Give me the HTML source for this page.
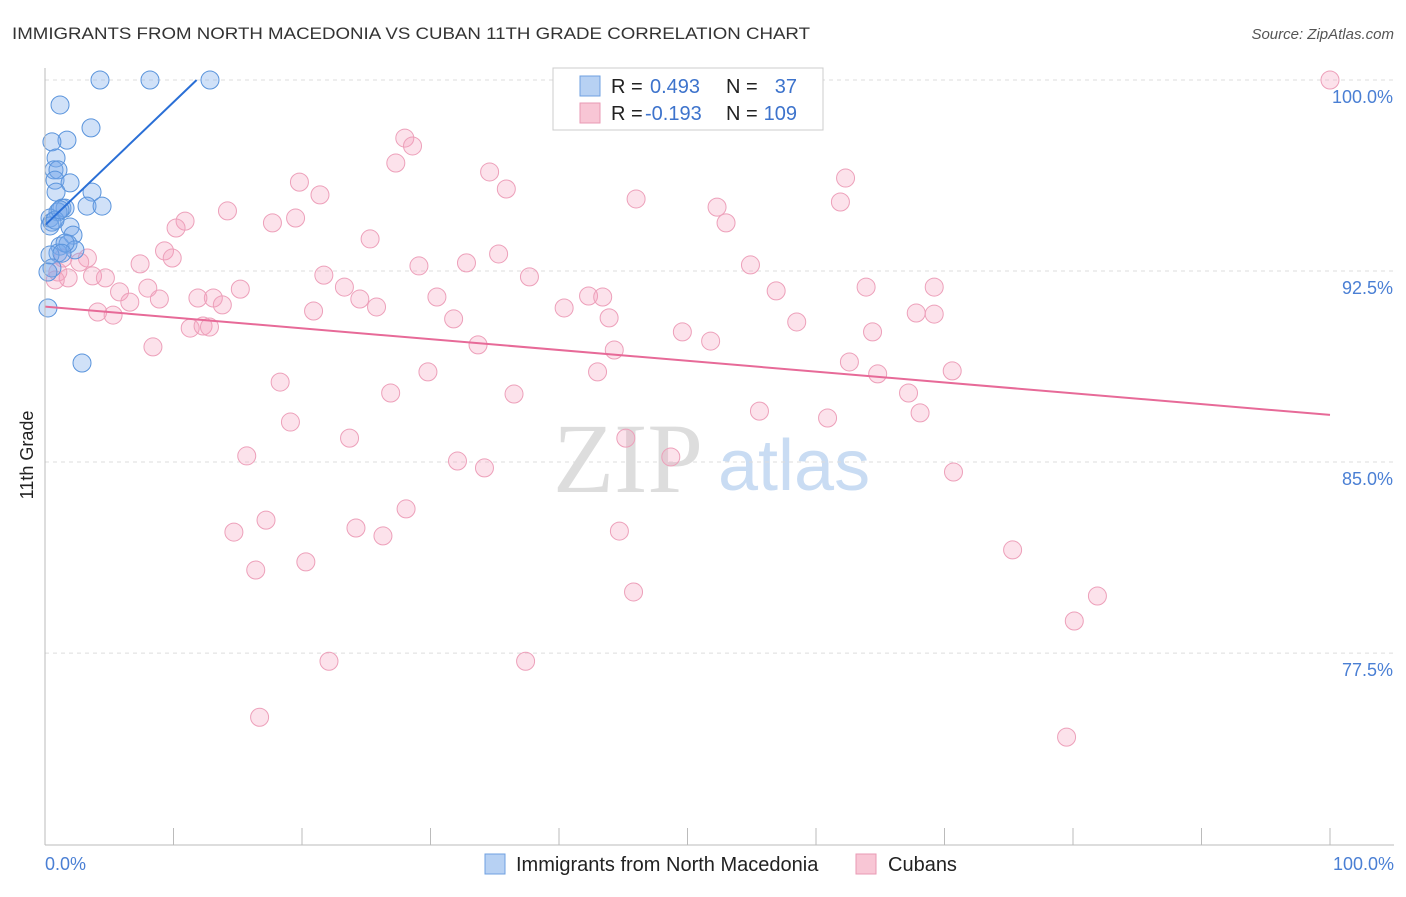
<!DOCTYPE html>
<html><head><meta charset="utf-8"><style>
body{margin:0;background:#fff;font-family:"Liberation Sans",sans-serif}
</style></head><body>
<svg id="c" width="1406" height="892" font-family="Liberation Sans, sans-serif">
<text x="12" y="39" font-size="17" fill="#333" textLength="798" lengthAdjust="spacingAndGlyphs">IMMIGRANTS FROM NORTH MACEDONIA VS CUBAN 11TH GRADE CORRELATION CHART</text>
<text x="1394" y="39" font-size="15" fill="#555" font-style="italic" text-anchor="end">Source: ZipAtlas.com</text>
<text x="33" y="455" font-size="18" fill="#222" transform="rotate(-90 33 455)" text-anchor="middle">11th Grade</text>
<g><text x="553" y="492" font-size="100" fill="#ddd" font-family="Liberation Serif, serif">ZIP</text><text x="718" y="490" font-size="72" fill="#c9dcf3">atlas</text></g>
<g id="grid"></g><g id="pts"></g><g id="lines"></g>
<line x1="45" y1="68" x2="45" y2="845" stroke="#bbb"/>
<line x1="45" y1="845" x2="1394" y2="845" stroke="#bbb"/>
<text x="45" y="870" font-size="18" fill="#4a7fd4">0.0%</text>
<text x="1394" y="870" font-size="18" fill="#4a7fd4" text-anchor="end">100.0%</text>
<g>
<rect x="553" y="68" width="270" height="62" fill="#fff" stroke="#ccc"/>
<rect x="580" y="76" width="20" height="20" fill="#b7d1f3" stroke="#6fa0e0"/>
<rect x="580" y="103" width="20" height="20" fill="#f8c6d5" stroke="#e99ab4"/>
<text x="611" y="93" font-size="20" fill="#222">R =</text><text x="650" y="93" font-size="20" fill="#3d73cc">0.493</text><text x="726" y="93" font-size="20" fill="#222">N =</text><text x="797" y="93" font-size="20" fill="#3d73cc" text-anchor="end">37</text>
<text x="611" y="120" font-size="20" fill="#222">R =</text><text x="645" y="120" font-size="20" fill="#3d73cc">-0.193</text><text x="726" y="120" font-size="20" fill="#222">N =</text><text x="797" y="120" font-size="20" fill="#3d73cc" text-anchor="end">109</text>
</g>
<g>
<rect x="485" y="854" width="20" height="20" fill="#b7d1f3" stroke="#6fa0e0"/>
<text x="516" y="871" font-size="20" fill="#222">Immigrants from North Macedonia</text>
<rect x="856" y="854" width="20" height="20" fill="#f8c6d5" stroke="#e99ab4"/>
<text x="888" y="871" font-size="20" fill="#222">Cubans</text>
</g>
</svg>
<script>
const yTicks=[100,92.5,85,77.5];
const yTickLabels=["100.0%","92.5%","85.0%","77.5%"];
const xTicks=[0,10,20,30,40,50,60,70,80,90,100];
const blueX=[4.28,8.17,12.84,1.17,3.58,1.71,0.54,0.86,0.70,1.01,0.78,1.95,0.86,3.66,3.27,4.44,1.32,1.56,1.01,0.39,0.54,1.95,2.18,0.39,1.17,1.79,2.33,1.01,0.39,0.54,0.23,0.23,2.88,1.56,1.32,0.78,1.17];
const blueY=[100,100,100,99.02,98.12,97.64,97.57,96.94,96.47,96.47,96.07,95.96,95.60,95.60,95.05,95.05,94.97,94.97,94.82,94.58,94.42,94.23,93.91,94.27,93.48,93.56,93.33,93.21,93.13,92.62,92.46,91.05,88.89,93.6,93.2,94.5,94.9];
const pinkX=[100,28.0,28.6,27.3,34.6,19.8,35.9,21.4,46.0,62.3,61.9,52.3,14.2,10.9,19.5,17.7,53.0,10.2,25.3,9.3,35.3,9.9,3.3,2.7,1.4,7.4,29.1,32.8,54.9,21.7,37.7,3.7,4.7,1.8,1.0,0.8,23.3,15.2,69.2,56.9,63.9,5.8,8.0,13.1,11.9,8.9,6.6,24.5,42.3,43.4,30.5,13.8,25.8,20.9,40.4,4.1,5.3,67.8,69.2,31.8,43.9,58.5,11.3,12.3,12.8,49.6,64.4,33.7,51.8,8.4,44.3,62.6,29.8,43.0,64.8,70.6,18.3,26.9,36.5,67.2,55.6,68.1,60.9,19.1,23.7,45.2,15.7,32.1,48.7,34.2,70.7,28.1,17.2,14.7,24.2,26.3,44.7,16.4,75.3,20.3,45.8,81.9,80.1,22.1,37.4,16.7,79.5];
const pinkY=[100,97.72,97.41,96.74,96.39,95.99,95.72,95.49,95.33,96.15,95.21,95.01,94.86,94.46,94.58,94.39,94.39,94.19,93.76,93.29,93.17,93.01,93.01,92.85,93.01,92.78,92.70,92.82,92.74,92.34,92.27,92.31,92.23,92.23,92.46,92.15,91.87,91.79,91.87,91.72,91.87,91.68,91.83,91.44,91.44,91.40,91.28,91.40,91.52,91.48,91.48,91.17,91.09,90.93,91.05,90.89,90.77,90.85,90.81,90.62,90.66,90.50,90.26,90.34,90.30,90.11,90.11,89.60,89.75,89.52,89.40,88.93,88.54,88.54,88.46,88.58,88.14,87.71,87.67,87.71,87.00,86.93,86.73,86.57,85.94,85.94,85.24,85.04,85.20,84.77,84.61,83.16,82.72,82.25,82.41,82.10,82.29,80.76,81.55,81.08,79.90,79.74,78.76,77.18,77.18,74.98,74.20];
const blueTrendX=[0,11.8];
const blueTrendY=[94.3,100];
const pinkTrendX=[0,100];
const pinkTrendY=[91.1,86.85];
const NS="http://www.w3.org/2000/svg";
function sx(v){return 45+v*12.85;}
function sy(v){return 80+(100-v)*25.47;}
function mk(t,a,p){const e=document.createElementNS(NS,t);for(const k in a)e.setAttribute(k,a[k]);document.getElementById(p).appendChild(e);return e;}
yTicks.forEach((v,i)=>{
 const l=mk('line',{x1:45,x2:1394,y1:sy(v),y2:sy(v),stroke:'#ddd','stroke-dasharray':'4,4'},'grid');
 
 
 const t=mk('text',{x:1393,y:sy(v)+23,'font-size':18,fill:'#4a7fd4','text-anchor':'end'},'grid');
 t.textContent=yTickLabels[i];
 
 
});
xTicks.forEach(v=>{
 const l=mk('line',{x1:sx(v),x2:sx(v),y1:828,y2:845,stroke:'#bbb'},'grid');
 
 
});
pinkX.forEach((x,i)=>{
 const c=mk('circle',{cx:sx(x),cy:sy(pinkY[i]),r:9,fill:'rgba(244,160,188,0.3)',stroke:'#eda0ba','stroke-width':1},'pts');
 
 
});
blueX.forEach((x,i)=>{
 const c=mk('circle',{cx:sx(x),cy:sy(blueY[i]),r:9,fill:'rgba(120,170,235,0.35)',stroke:'#5a94dc','stroke-width':1},'pts');
 
 
});
const bl=mk('line',{x1:sx(blueTrendX[0]),y1:sy(blueTrendY[0]),x2:sx(blueTrendX[1]),y2:sy(blueTrendY[1]),stroke:'#2a6fd6','stroke-width':2},'lines');


const pl=mk('line',{x1:sx(pinkTrendX[0]),y1:sy(pinkTrendY[0]),x2:sx(pinkTrendX[1]),y2:sy(pinkTrendY[1]),stroke:'#e76a98','stroke-width':2},'lines');


</script>
</body></html>
